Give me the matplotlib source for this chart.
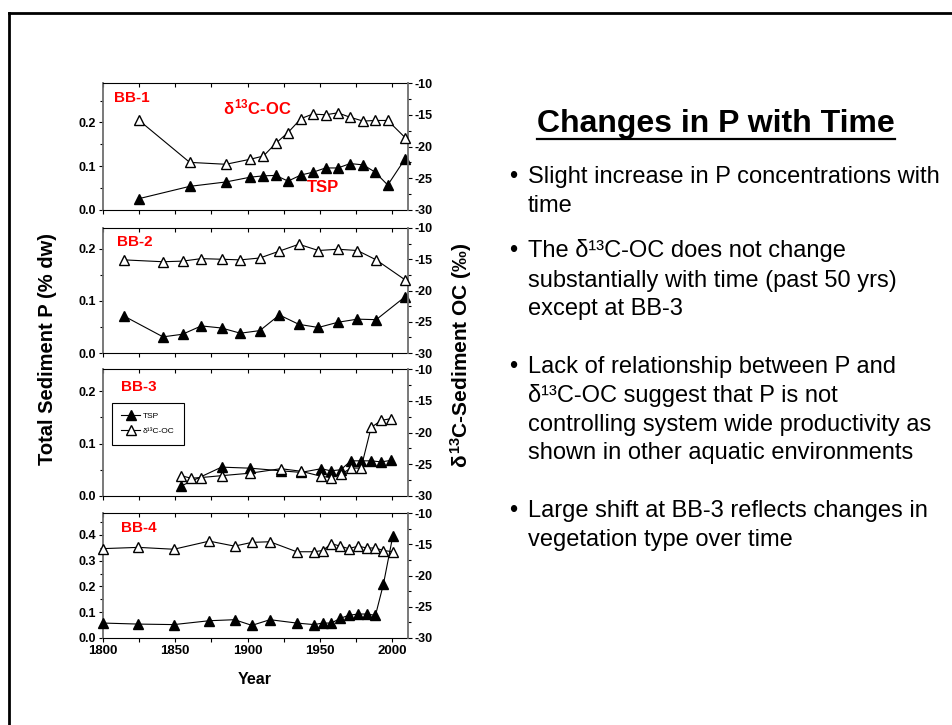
import matplotlib.pyplot as plt
from matplotlib.lines import Line2D
from matplotlib.ticker import MultipleLocator, FormatStrFormatter

plt.rcParams['font.family'] = ['Liberation Sans', 'DejaVu Sans']
plt.rcParams['axes.unicode_minus'] = False
plt.rcParams['mathtext.fontset'] = 'custom'
plt.rcParams['mathtext.rm'] = 'Liberation Sans:bold'
plt.rcParams['mathtext.it'] = 'Liberation Sans:bold'
plt.rcParams['mathtext.bf'] = 'Liberation Sans:bold'

# Data (years, TSP % dw, delta13C per mil).
bb1_years = [1825, 1860, 1885, 1902, 1911, 1919.5, 1928, 1937, 1945, 1954, 1962.5, 1971, 1980, 1988, 1997, 2009]
bb1_tsp = [0.026, 0.054, 0.064, 0.075, 0.078, 0.079, 0.066, 0.080, 0.086, 0.096, 0.096, 0.106, 0.103, 0.087, 0.057, 0.117]
bb1_oc = [-15.9, -22.5, -22.8, -22.0, -21.5, -19.5, -17.8, -15.6, -14.9, -15.0, -14.7, -15.4, -16.0, -15.9, -15.9, -18.6]

bb2_years = [1814.5, 1841.5, 1855, 1868, 1882, 1895, 1908.5, 1922, 1935.5, 1949, 1962.5, 1976, 1989, 2009]
bb2_tsp = [0.071, 0.031, 0.036, 0.052, 0.048, 0.038, 0.043, 0.073, 0.055, 0.049, 0.059, 0.065, 0.064, 0.108]
bb2_oc = [-15.1, -15.4, -15.3, -14.9, -15.0, -15.1, -14.8, -13.7, -12.6, -13.6, -13.4, -13.6, -15.1, -18.3]

bb3_tsp_years = [1854, 1882, 1902, 1923, 1937, 1951, 1957.5, 1964.5, 1971.5, 1978.5, 1985.5, 1992.5, 1999.5]
bb3_tsp = [0.019, 0.055, 0.053, 0.048, 0.045, 0.052, 0.048, 0.050, 0.067, 0.067, 0.067, 0.065, 0.068]
bb3_oc_years = [1854, 1861, 1867.5, 1882, 1902, 1923, 1937, 1951, 1957.5, 1964.5, 1971.5, 1978.5, 1985.5, 1992.5, 1999.5]
bb3_oc = [-26.8, -27.2, -27.1, -26.8, -26.4, -25.7, -26.1, -26.9, -27.1, -26.6, -25.6, -25.6, -19.2, -18.1, -17.8]

bb4_years = [1800, 1824.5, 1849, 1873.5, 1891, 1903, 1915.5, 1934, 1946, 1952, 1958, 1964, 1970, 1976.5, 1982.5, 1988.5, 1994, 2000.5]
bb4_tsp = [0.058, 0.054, 0.052, 0.067, 0.071, 0.049, 0.071, 0.058, 0.052, 0.058, 0.058, 0.076, 0.088, 0.093, 0.093, 0.088, 0.209, 0.396]
bb4_oc = [-15.7, -15.5, -15.8, -14.5, -15.3, -14.7, -14.6, -16.2, -16.2, -16.0, -14.9, -15.3, -15.7, -15.3, -15.6, -15.6, -16.0, -16.2]

site_names = ['BB-1', 'BB-2', 'BB-3', 'BB-4']

W, H = 952, 725


def fx(px):
    return px / W


def fy(py):
    return 1 - py / H


fig = plt.figure(figsize=(W / 100, H / 100), dpi=100)

# slide frame (top and left edges visible)
fig.add_artist(Line2D([fx(8.5), 1.0], [fy(12.5), fy(12.5)], color='black', lw=2))
fig.add_artist(Line2D([fx(8.5), fx(8.5)], [fy(12.5), 0.0], color='black', lw=2))

panels = [
    (bb1_years, bb1_tsp, bb1_years, bb1_oc, 0.29, 83, 210, (114, 98)),
    (bb2_years, bb2_tsp, bb2_years, bb2_oc, 0.24, 228, 353, (117, 242)),
    (bb3_tsp_years, bb3_tsp, bb3_oc_years, bb3_oc, 0.242, 369, 496, (121, 387)),
    (bb4_years, bb4_tsp, bb4_years, bb4_oc, 0.485, 513, 638, (121, 528)),
]

spine_grey = '#6e6e6e'
for i, (yt, tsp, yo, oc, ymax, top, bottom, lab) in enumerate(panels):
    ax = fig.add_axes([fx(103), fy(bottom), fx(408) - fx(103), (bottom - top) / H])
    h1, = ax.plot(yt, tsp, color='black', lw=0.8, marker='^', ms=7.5,
                  mfc='black', mec='black', clip_on=False, label='TSP', zorder=3)
    ax2 = ax.twinx()
    h2, = ax2.plot(yo, oc, color='black', lw=0.8, marker='^', ms=7.5,
                   mfc='white', mec='black', clip_on=False,
                   label='δ¹³C-OC', zorder=3)

    ax.set_xlim(1800, 2011)
    ax.set_ylim(0, ymax)
    ax2.set_ylim(-30, -10)

    ax.xaxis.set_major_locator(MultipleLocator(50))
    ax.xaxis.set_minor_locator(MultipleLocator(25))
    ax.yaxis.set_major_locator(MultipleLocator(0.1))
    ax.yaxis.set_minor_locator(MultipleLocator(0.05))
    ax.yaxis.set_major_formatter(FormatStrFormatter('%.1f'))
    ax2.yaxis.set_major_locator(MultipleLocator(5))
    ax2.yaxis.set_minor_locator(MultipleLocator(2.5))

    ax.tick_params(axis='both', which='both', direction='out', labelsize=9,
                   top=True, right=False, width=0.8, pad=2)
    ax.tick_params(axis='x', which='both', length=3, labelsize=9.5)
    ax.tick_params(axis='y', which='major', length=3)
    ax.tick_params(axis='y', which='minor', length=2)
    ax.tick_params(labelbottom=(i == 3))
    # top ticks point into the plot
    for tk in ax.xaxis.get_major_ticks() + ax.xaxis.get_minor_ticks():
        tk.tick2line.set_marker(3)
    ax2.tick_params(axis='y', which='major', direction='out', length=3,
                    labelsize=9, width=0.8, pad=2)
    ax2.tick_params(axis='y', which='minor', direction='out', length=2, width=0.8)

    for t in ax.get_xticklabels() + ax.get_yticklabels() + ax2.get_yticklabels():
        t.set_fontweight('bold')

    ax.spines['right'].set_visible(False)
    ax2.spines['left'].set_visible(False)
    ax2.spines['top'].set_visible(False)
    ax2.spines['bottom'].set_visible(False)
    ax.spines['left'].set_color(spine_grey)
    ax.spines['left'].set_linewidth(1.3)
    ax2.spines['right'].set_color(spine_grey)
    ax2.spines['right'].set_linewidth(1.3)
    ax.spines['top'].set_linewidth(0.8)
    ax.spines['bottom'].set_linewidth(0.8)

    fig.text(fx(lab[0]), fy(lab[1]), site_names[i], color='red',
             fontsize=11, fontweight='bold', ha='left', va='center')

    if i == 2:
        leg = ax2.legend(handles=[h1, h2], loc='upper left',
                         bbox_to_anchor=(fx(112), fy(403)),
                         bbox_transform=fig.transFigure, fontsize=6,
                         fancybox=False, edgecolor='black', framealpha=1,
                         handlelength=2.3, borderpad=1.1, labelspacing=0.9,
                         handletextpad=0.3, borderaxespad=0, markerscale=1.0)
        leg.get_frame().set_linewidth(0.8)

# series annotations in BB-1
fig.text(fx(223), fy(107), r'$\delta^{13}$C-OC', color='red', fontsize=12,
         fontweight='bold', ha='left', va='center')
fig.text(fx(307), fy(188), 'TSP', color='red', fontsize=12,
         fontweight='bold', ha='left', va='center')

# axis labels
fig.text(fx(48), fy(349), 'Total Sediment P (% dw)', rotation=90,
         fontsize=14.5, fontweight='bold', ha='center', va='center')
fig.text(fx(461), fy(355), r'$\delta^{13}$C-Sediment OC (‰)', rotation=90,
         fontsize=15, fontweight='bold', ha='center', va='center')
fig.text(fx(255), fy(680), 'Year', fontsize=11.5, fontweight='bold',
         ha='center', va='center')

# slide text
title = fig.text(fx(537), fy(132), 'Changes in P with Time', fontsize=23,
                 fontweight='bold', ha='left', va='baseline')

bullets = [
    (['Slight increase in P concentrations with', 'time'], [183, 212]),
    (['The δ¹³C-OC does not change', 'substantially with time (past 50 yrs)',
      'except at BB-3'], [257, 287, 315]),
    (['Lack of relationship between P and', 'δ¹³C-OC suggest that P is not',
      'controlling system wide productivity as',
      'shown in other aquatic environments'], [373, 402, 431, 459]),
    (['Large shift at BB-3 reflects changes in', 'vegetation type over time'],
     [517, 546]),
]
for lines, ys in bullets:
    fig.text(fx(509), fy(ys[0]), '•', fontsize=17, ha='left', va='baseline')
    for line, y in zip(lines, ys):
        fig.text(fx(528), fy(y), line, fontsize=17, ha='left', va='baseline')

# underline the title
fig.canvas.draw()
bb = title.get_window_extent()
fig.add_artist(Line2D([bb.x0 / W, bb.x1 / W], [fy(139), fy(139)],
                      color='black', lw=1.6))

plt.savefig('out.png', dpi=100)
